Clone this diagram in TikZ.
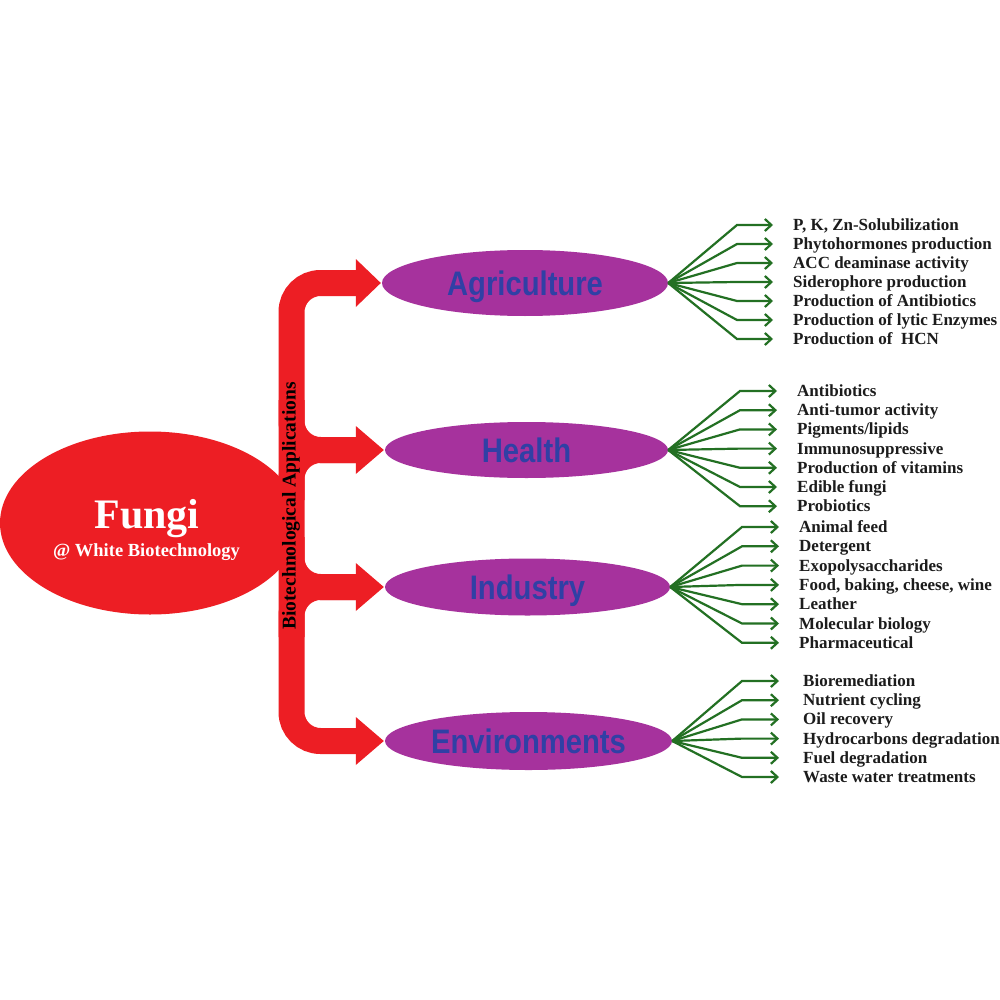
\documentclass[tikz,border=0pt]{standalone}
\usepackage{fontspec}
\setmainfont{Liberation Serif}
\newfontfamily\lsans{Liberation Sans}
\usetikzlibrary{arrows.meta,calc,shapes.geometric}
\definecolor{fred}{RGB}{237,30,36}
\definecolor{fpurple}{RGB}{166,50,157}
\definecolor{fblue}{RGB}{48,64,165}
\definecolor{fgreen}{RGB}{35,112,35}
\definecolor{ftext}{RGB}{28,28,28}
\begin{document}
\begin{tikzpicture}[x=1pt,y=-1pt,
  cat/.style={ellipse, fill=fpurple, inner sep=0pt, text=fblue,
    font=\lsans\bfseries\fontsize{34}{34}\selectfont, text height=24pt, text depth=0pt},
  item/.style={anchor=west, inner sep=0pt, text height=11pt, text depth=0pt,
    font=\bfseries\fontsize{17}{17}\selectfont, text=ftext},
  fan/.style={draw=fgreen, line width=2.2pt, -{Straight Barb[length=6.5pt,width=12pt]}},
  trunk/.style={draw=fred, line width=26pt, rounded corners=29pt},
  redhead/.style={fill=fred}]
\fill[white] (0,0) rectangle (1000,1000);
\useasboundingbox (0,0) rectangle (1000,1000);

% central node
\node[ellipse, fill=fred, minimum width=300pt, minimum height=183pt, inner sep=0pt] (fungi) at (150,523) {};
\node[anchor=base, text=white, inner sep=0pt, font=\bfseries\fontsize{42}{42}\selectfont] (fungit) at (147,528) {Fungi};
\node[anchor=base, text=white, inner sep=0pt, font=\bfseries\fontsize{18.5}{18.5}\selectfont] (fungis) at (146.5,556) {@ White Biotechnology};

% category nodes
\node[cat, minimum width=286pt, minimum height=66pt] (agri) at (525,283) {\scalebox{0.86}[1]{Agriculture}};
\node[cat, minimum width=283pt, minimum height=56pt] (health) at (526.5,450) {\scalebox{0.86}[1]{Health}};
\node[cat, minimum width=285pt, minimum height=57pt] (ind) at (527.5,587) {\scalebox{0.86}[1]{Industry}};
\node[cat, minimum width=287pt, minimum height=58pt] (env) at (528.5,741) {\scalebox{0.86}[1]{Environments}};

% red trunk with branch arrows
\coordinate (bar) at (291.5,0);
\coordinate (ta) at ($(agri.west)+(-25,0)$);
\coordinate (th) at ($(health.west)+(-28,0)$);
\coordinate (ti) at ($(ind.west)+(-28,0)$);
\coordinate (te) at ($(env.west)+(-28,0)$);
\draw[trunk] (ta) -- (ta -| bar) -- (te -| bar) -- (te);
\draw[trunk] ($(th -| bar)+(0,-50)$) -- (th -| bar) -- (th);
\draw[trunk] ($(th -| bar)+(0,50)$) -- (th -| bar) -- (th);
\draw[trunk] ($(ti -| bar)+(0,-50)$) -- (ti -| bar) -- (ti);
\draw[trunk] ($(ti -| bar)+(0,50)$) -- (ti -| bar) -- (ti);
\foreach \c/\t in {ta/agri, th/health, ti/ind, te/env}{
  \fill[redhead] ($(\c)+(-1,-24)$) -- ($(\t.west)+(-1,0)$) -- ($(\c)+(-1,24)$) -- cycle;
}
\node[rotate=90, inner sep=0pt, font=\bfseries\fontsize{19.5}{19.5}\selectfont] (bio) at (291,506) {Biotechnological Applications};

% Agriculture items
\foreach \t [count=\i from 0] in {{P, K, Zn-Solubilization},Phytohormones production,ACC deaminase activity,Siderophore production,Production of Antibiotics,Production of lytic Enzymes,{Production of~ HCN}}{
  \pgfmathsetmacro\yy{225+19*\i}
  \node[item] (ag\i) at (793,\yy) {\t};
  \draw[fan] (agri.east) -- (737,\yy) -- ([xshift=-20pt]ag\i.west);
}
% Health items
\foreach \t [count=\i from 0] in {Antibiotics,Anti-tumor activity,Pigments/lipids,Immunosuppressive,Production of vitamins,Edible fungi,Probiotics}{
  \pgfmathsetmacro\yy{391+19.2*\i}
  \node[item] (he\i) at (797,\yy) {\t};
  \draw[fan] (health.east) -- (740,\yy) -- ([xshift=-20pt]he\i.west);
}
% Industry items
\foreach \t [count=\i from 0] in {Animal feed,Detergent,Exopolysaccharides,{Food, baking, cheese, wine},Leather,Molecular biology,Pharmaceutical}{
  \pgfmathsetmacro\yy{527+19.3*\i}
  \node[item] (in\i) at (799,\yy) {\t};
  \draw[fan] (ind.east) -- (742,\yy) -- ([xshift=-20pt]in\i.west);
}
% Environment items
\foreach \t [count=\i from 0] in {Bioremediation,Nutrient cycling,Oil recovery,Hydrocarbons degradation,Fuel degradation,Waste water treatments}{
  \pgfmathsetmacro\yy{681+19.2*\i}
  \node[item] (en\i) at (803,\yy) {\t};
  \draw[fan] (env.east) -- (742,\yy) -- ([xshift=-24pt]en\i.west);
}
\end{tikzpicture}
\end{document}
